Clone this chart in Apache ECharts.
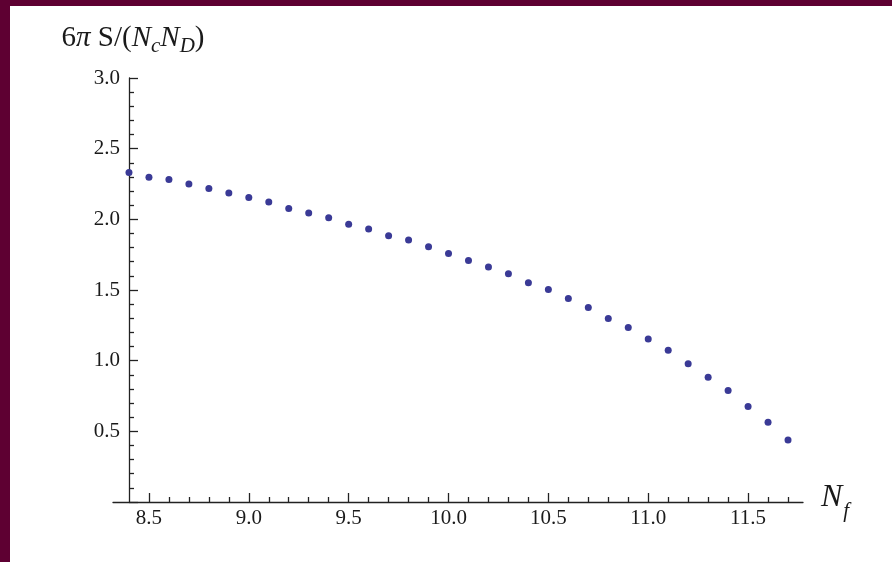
<!DOCTYPE html>
<html>
<head>
<meta charset="utf-8">
<script src="https://cdn.jsdelivr.net/npm/echarts@6/dist/echarts.min.js"></script>
<style>
  html, body { margin: 0; padding: 0; width: 892px; height: 562px; overflow: hidden; background: #5e0032; }
  #chart { position: absolute; left: 10px; top: 6px; width: 882px; height: 556px; background: #ffffff; }
</style>
</head>
<body>
<div id="chart"></div>
<script>
// Data: N_f values and 6*pi*S/(Nc*ND)
var nf = [8.4, 8.5, 8.6, 8.7, 8.8, 8.9, 9.0, 9.1, 9.2, 9.3, 9.4, 9.5, 9.6, 9.7, 9.8, 9.9, 10.0,
          10.1, 10.2, 10.3, 10.4, 10.5, 10.6, 10.7, 10.8, 10.9, 11.0, 11.1, 11.2, 11.3, 11.4, 11.5, 11.6, 11.7];
var entropy = [2.331, 2.298, 2.281, 2.250, 2.218, 2.187, 2.154, 2.123, 2.076, 2.045, 2.012, 1.965, 1.931,
               1.884, 1.853, 1.806, 1.759, 1.709, 1.662, 1.615, 1.551, 1.504, 1.440, 1.376, 1.298, 1.234,
               1.154, 1.073, 0.979, 0.882, 0.789, 0.676, 0.565, 0.438];
var xMajorTicks = [8.5, 9.0, 9.5, 10.0, 10.5, 11.0, 11.5];
var xMinorTicks = [8.6, 8.7, 8.8, 8.9, 9.1, 9.2, 9.3, 9.4, 9.6, 9.7, 9.8, 9.9, 10.1, 10.2, 10.3, 10.4,
                   10.6, 10.7, 10.8, 10.9, 11.1, 11.2, 11.3, 11.4, 11.6, 11.7];
var yLabels = [0.5, 1.0, 1.5, 2.0, 2.5, 3.0];

var points = nf.map(function (x, i) { return [x, entropy[i]]; });

var chart = echarts.init(document.getElementById('chart'), null, { renderer: 'canvas' });
var serif = '"Liberation Serif", "DejaVu Serif", serif';
var axisColor = '#222';
var textColor = '#1a1a1a';

var option = {
  animation: false,
  backgroundColor: '#ffffff',
  grid: [
    { left: 103, top: 72, width: 690, height: 424, containLabel: false, outerBoundsMode: 'none' },
    { left: 119, top: 72, width: 674, height: 424, containLabel: false, outerBoundsMode: 'none' }
  ],
  xAxis: [
    {
      gridIndex: 0, type: 'value', min: 8.32, max: 11.775, position: 'bottom',
      axisLine: { show: true, onZero: false, lineStyle: { color: axisColor, width: 1.3 } },
      axisTick: { show: true, inside: true, length: 9, customValues: xMajorTicks, lineStyle: { color: axisColor, width: 1.3 } },
      axisLabel: {
        show: true, customValues: xMajorTicks, margin: 6,
        formatter: function (v) { return v.toFixed(1); },
        fontFamily: serif, fontSize: 21, color: textColor
      },
      splitLine: { show: false },
      name: '{n|N}{s|f}', nameLocation: 'end', nameGap: 18,
      nameTextStyle: {
        align: 'left', verticalAlign: 'middle', padding: [0, 0, 8, 0],
        rich: {
          n: { fontFamily: serif, fontStyle: 'italic', fontSize: 32, color: textColor, lineHeight: 36, verticalAlign: 'middle' },
          s: { fontFamily: serif, fontStyle: 'italic', fontSize: 21, color: textColor, lineHeight: 21, verticalAlign: 'bottom', padding: [0, 0, -6, 1] }
        }
      }
    },
    {
      gridIndex: 0, type: 'value', min: 8.32, max: 11.775, position: 'bottom',
      axisLine: { show: false },
      axisTick: { show: true, inside: true, length: 5, customValues: xMinorTicks, lineStyle: { color: axisColor, width: 1.3 } },
      axisLabel: { show: false },
      splitLine: { show: false }
    },
    {
      gridIndex: 1, type: 'value', min: 8.4, max: 11.775, show: false
    }
  ],
  yAxis: [
    { gridIndex: 0, type: 'value', min: 0, max: 3, show: false },
    {
      gridIndex: 1, type: 'value', min: 0, max: 3, interval: 0.5, position: 'left',
      axisLine: { show: true, onZero: false, lineStyle: { color: axisColor, width: 1.3 } },
      axisTick: { show: true, inside: true, length: 9, lineStyle: { color: axisColor, width: 1.3 } },
      minorTick: { show: true, splitNumber: 5, length: 5, lineStyle: { color: axisColor, width: 1.3 } },
      axisLabel: {
        show: true, customValues: yLabels, margin: 9,
        formatter: function (v) { return v.toFixed(1); },
        fontFamily: serif, fontSize: 21, color: textColor
      },
      splitLine: { show: false },
      minorSplitLine: { show: false },
      name: '{r|6}{i|\u03c0}{r| S/(}{i|N}{s|c}{i|N}{s|D}{r|)}',
      nameLocation: 'end', nameGap: 24,
      nameTextStyle: {
        align: 'center', verticalAlign: 'bottom', padding: [0, 0, 0, 8],
        rich: {
          r: { fontFamily: serif, fontSize: 29, color: textColor, lineHeight: 32, verticalAlign: 'middle' },
          i: { fontFamily: serif, fontStyle: 'italic', fontSize: 29, color: textColor, lineHeight: 32, verticalAlign: 'middle' },
          s: { fontFamily: serif, fontStyle: 'italic', fontSize: 21, color: textColor, lineHeight: 21, verticalAlign: 'bottom', padding: [0, 0, -3, 0] }
        }
      }
    }
  ],
  series: [
    {
      type: 'scatter', xAxisIndex: 0, yAxisIndex: 0,
      data: points,
      symbol: 'circle', symbolSize: 7,
      itemStyle: { color: '#3a3a96', opacity: 1 },
      z: 5
    }
  ]
};
chart.setOption(option);
</script>
</body>
</html>
